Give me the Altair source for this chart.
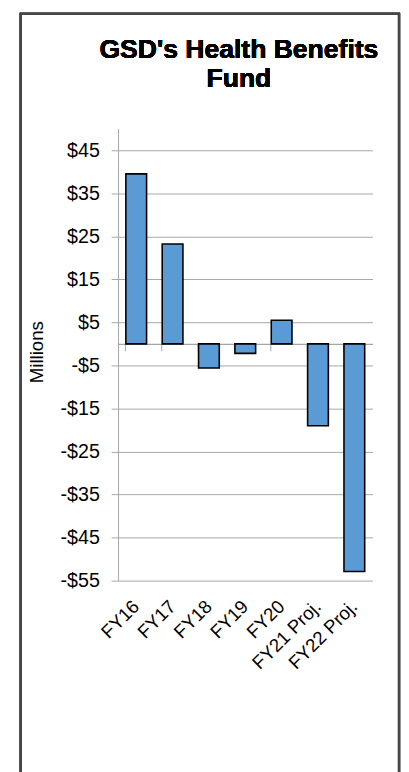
import altair as alt
import pandas as pd

categories = ["FY16", "FY17", "FY18", "FY19", "FY20", "FY21 Proj.", "FY22 Proj."]
values = [39.5, 23.2, -5.6, -2.2, 5.5, -19.0, -52.9]
y_ticks = [45, 35, 25, 15, 5, -5, -15, -25, -35, -45, -55]
title_lines = ["GSD's Health Benefits", "Fund"]

df = pd.DataFrame({"cat": categories, "val": values})

W, H = 259, 460
YMIN, YMAX = -55, 50
zero_from_bottom = H * (0 - YMIN) / (YMAX - YMIN)

FONT = "Liberation Sans"
GRID = "#A6A6A6"

xscale = alt.Scale(domain=categories, paddingInner=0.43, paddingOuter=0.215)
yscale = alt.Scale(domain=[YMIN, YMAX], nice=False, zero=False)

bars = alt.Chart(df).mark_bar(
    color="#5B9BD5", stroke="#000000", strokeWidth=1.6
).encode(
    x=alt.X("cat:N", scale=xscale, sort=categories,
            axis=alt.Axis(title=None, orient="bottom", labelAngle=-45,
                          labelAlign="right", labelBaseline="middle",
                          domain=False, ticks=False, labelPadding=23,
                          labelFontSize=19, labelFont=FONT, labelColor="#000000",
                          labelOverlap=False, labelBound=False)),
    y=alt.Y("val:Q", scale=yscale,
            axis=alt.Axis(title="Millions", values=y_ticks, grid=True,
                          gridColor=GRID, gridWidth=1,
                          domainColor=GRID, domainWidth=1,
                          tickColor=GRID, tickSize=7, tickWidth=1,
                          labelExpr="datum.value < 0 ? '-$' + abs(datum.value) : '$' + datum.value",
                          labelFontSize=20, labelFont=FONT, labelColor="#000000",
                          labelPadding=12, labelBound=False,
                          titleFontSize=19, titleFont=FONT, titleFontWeight="normal",
                          titleColor="#000000", titleX=-73, titleY=227)),
)

zero_axis = alt.Chart(df).mark_rule(opacity=0).encode(
    x=alt.X("cat:N", scale=xscale, sort=categories,
            axis=alt.Axis(title=None, orient="bottom", offset=-zero_from_bottom,
                          labels=False, ticks=True, bandPosition=0,
                          tickColor=GRID, tickSize=7, tickWidth=1,
                          domainColor=GRID, domainWidth=1.5)),
)

border = alt.Chart(df).mark_rect(
    filled=False, stroke="#474747", strokeWidth=2.2
).encode(
    x=alt.value(-99), x2=alt.value(286), y=alt.value(-117), y2=alt.value(700)
)

title = alt.Chart(df).mark_text(
    text=title_lines, font=FONT, fontSize=27, fontWeight="bold", color="#000000",
    align="center", baseline="alphabetic", lineHeight=30,
).encode(x=alt.value(123), y=alt.value(-72))

chart = alt.layer(border, title, bars, zero_axis).resolve_axis(x="independent").properties(
    width=W, height=H,
    autosize=alt.AutoSizeParams(type="none"),
    padding={"left": 112, "top": 116, "right": 29, "bottom": 190},
).configure_view(stroke=None)

chart.save("out.html", embed_options={"renderer": "svg", "actions": False})
